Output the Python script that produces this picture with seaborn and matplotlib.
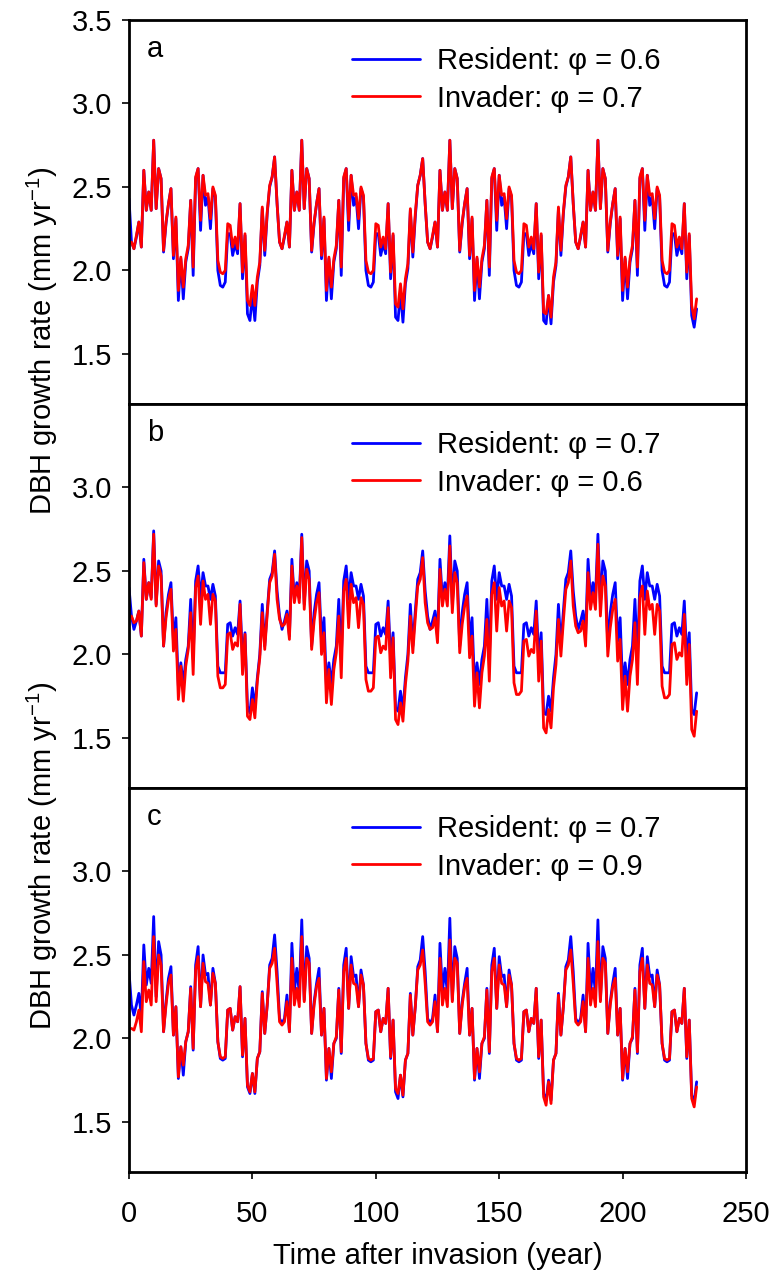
import numpy as np
import pandas as pd
import seaborn as sns
import matplotlib
matplotlib.use("Agg")
import matplotlib.pyplot as plt

# ---------------- data ----------------
years_res = np.arange(0, 231)
years_inv = np.arange(1, 231)

resident_a = [
 2.43, 2.17, 2.13, 2.20, 2.29, 2.14, 2.60, 2.36, 2.47, 2.36,
 2.78, 2.37, 2.61, 2.55, 2.11, 2.28, 2.40, 2.49, 2.07, 2.31,
 1.82, 2.07, 1.83, 2.05, 2.13, 2.42, 1.97, 2.55, 2.61, 2.24,
 2.57, 2.39, 2.44, 2.25, 2.49, 2.44, 2.00, 1.91, 1.90, 1.93,
 2.22, 2.22, 2.09, 2.16, 2.10, 2.40, 1.95, 2.21, 1.74, 1.70,
 1.85, 1.70, 1.93, 2.03, 2.37, 2.09, 2.34, 2.50, 2.56, 2.68,
 2.40, 2.17, 2.13, 2.20, 2.29, 2.14, 2.60, 2.36, 2.47, 2.36,
 2.78, 2.37, 2.61, 2.55, 2.11, 2.28, 2.40, 2.49, 2.07, 2.31,
 1.82, 2.07, 1.83, 2.05, 2.13, 2.42, 1.97, 2.55, 2.61, 2.24,
 2.57, 2.39, 2.44, 2.25, 2.49, 2.44, 2.00, 1.91, 1.90, 1.93,
 2.22, 2.22, 2.09, 2.16, 2.10, 2.40, 1.95, 2.21, 1.72, 1.70,
 1.87, 1.69, 1.92, 2.01, 2.36, 2.08, 2.32, 2.51, 2.57, 2.67,
 2.40, 2.17, 2.13, 2.20, 2.29, 2.14, 2.60, 2.36, 2.47, 2.36,
 2.78, 2.37, 2.61, 2.55, 2.11, 2.28, 2.40, 2.49, 2.07, 2.31,
 1.82, 2.07, 1.83, 2.05, 2.13, 2.42, 1.97, 2.55, 2.61, 2.24,
 2.57, 2.39, 2.44, 2.25, 2.49, 2.44, 2.00, 1.91, 1.90, 1.93,
 2.22, 2.22, 2.09, 2.16, 2.10, 2.40, 1.95, 2.21, 1.70, 1.68,
 1.85, 1.68, 1.93, 2.03, 2.37, 2.09, 2.34, 2.50, 2.56, 2.68,
 2.40, 2.17, 2.13, 2.20, 2.29, 2.14, 2.60, 2.36, 2.47, 2.36,
 2.78, 2.37, 2.61, 2.55, 2.11, 2.28, 2.40, 2.49, 2.07, 2.31,
 1.82, 2.07, 1.83, 2.05, 2.13, 2.42, 1.97, 2.55, 2.61, 2.24,
 2.57, 2.39, 2.44, 2.25, 2.49, 2.44, 2.00, 1.91, 1.90, 1.93,
 2.22, 2.22, 2.09, 2.16, 2.10, 2.40, 1.95, 2.21, 1.73, 1.66,
 1.77]

invader_a = [
 2.17, 2.13, 2.21, 2.29, 2.14, 2.60, 2.36, 2.47, 2.36,
 2.78, 2.37, 2.61, 2.55, 2.12, 2.29, 2.40, 2.49, 2.09, 2.32,
 1.88, 2.08, 1.90, 2.07, 2.15, 2.42, 2.02, 2.56, 2.61, 2.30,
 2.57, 2.45, 2.46, 2.31, 2.50, 2.45, 2.06, 1.99, 1.98, 2.00,
 2.28, 2.27, 2.14, 2.20, 2.13, 2.40, 1.99, 2.22, 1.82, 1.79,
 1.91, 1.79, 1.96, 2.05, 2.38, 2.12, 2.35, 2.51, 2.56, 2.68,
 2.40, 2.17, 2.13, 2.21, 2.29, 2.14, 2.60, 2.36, 2.47, 2.36,
 2.78, 2.37, 2.61, 2.55, 2.12, 2.29, 2.40, 2.49, 2.09, 2.32,
 1.88, 2.08, 1.90, 2.07, 2.15, 2.42, 2.02, 2.56, 2.61, 2.30,
 2.57, 2.45, 2.46, 2.31, 2.50, 2.45, 2.06, 1.99, 1.98, 2.00,
 2.28, 2.27, 2.14, 2.20, 2.13, 2.40, 1.99, 2.22, 1.80, 1.78,
 1.92, 1.77, 1.95, 2.04, 2.37, 2.11, 2.34, 2.51, 2.57, 2.67,
 2.40, 2.17, 2.13, 2.21, 2.29, 2.14, 2.60, 2.36, 2.47, 2.36,
 2.78, 2.37, 2.61, 2.55, 2.12, 2.29, 2.40, 2.49, 2.09, 2.32,
 1.88, 2.08, 1.90, 2.07, 2.15, 2.42, 2.02, 2.56, 2.61, 2.30,
 2.57, 2.45, 2.46, 2.31, 2.50, 2.45, 2.06, 1.99, 1.98, 2.00,
 2.28, 2.27, 2.14, 2.20, 2.13, 2.40, 1.99, 2.22, 1.75, 1.74,
 1.85, 1.72, 1.96, 2.05, 2.38, 2.12, 2.35, 2.51, 2.56, 2.68,
 2.40, 2.17, 2.13, 2.21, 2.29, 2.14, 2.60, 2.36, 2.47, 2.36,
 2.78, 2.37, 2.61, 2.55, 2.12, 2.29, 2.40, 2.49, 2.09, 2.32,
 1.88, 2.08, 1.90, 2.07, 2.15, 2.42, 2.02, 2.56, 2.61, 2.30,
 2.57, 2.45, 2.46, 2.31, 2.50, 2.45, 2.06, 1.99, 1.98, 2.00,
 2.28, 2.27, 2.14, 2.20, 2.13, 2.40, 1.99, 2.22, 1.79, 1.71,
 1.83]

resident_b = [
 2.40, 2.23, 2.15, 2.20, 2.26, 2.11, 2.57, 2.33, 2.43, 2.34,
 2.74, 2.30, 2.56, 2.50, 2.05, 2.25, 2.36, 2.43, 2.08, 2.22,
 1.81, 1.95, 1.82, 1.97, 2.05, 2.33, 1.97, 2.44, 2.53, 2.33,
 2.49, 2.41, 2.41, 2.33, 2.42, 2.35, 1.93, 1.89, 1.89, 1.89,
 2.18, 2.19, 2.11, 2.16, 2.12, 2.32, 1.97, 2.13, 1.69, 1.65,
 1.80, 1.68, 1.86, 2.00, 2.30, 2.05, 2.26, 2.45, 2.49, 2.62,
 2.38, 2.23, 2.15, 2.20, 2.26, 2.11, 2.57, 2.33, 2.43, 2.34,
 2.72, 2.30, 2.56, 2.50, 2.05, 2.25, 2.36, 2.43, 2.08, 2.22,
 1.81, 1.95, 1.82, 1.97, 2.05, 2.33, 1.97, 2.44, 2.53, 2.33,
 2.49, 2.41, 2.41, 2.33, 2.42, 2.35, 1.93, 1.89, 1.89, 1.89,
 2.18, 2.19, 2.11, 2.16, 2.12, 2.32, 1.97, 2.13, 1.68, 1.66,
 1.78, 1.66, 1.86, 2.00, 2.30, 2.05, 2.26, 2.45, 2.49, 2.62,
 2.38, 2.23, 2.15, 2.20, 2.26, 2.11, 2.57, 2.33, 2.43, 2.34,
 2.71, 2.30, 2.56, 2.50, 2.05, 2.25, 2.36, 2.43, 2.08, 2.22,
 1.81, 1.95, 1.82, 1.97, 2.05, 2.33, 1.97, 2.44, 2.53, 2.33,
 2.49, 2.41, 2.41, 2.33, 2.42, 2.35, 1.93, 1.89, 1.89, 1.89,
 2.18, 2.19, 2.11, 2.16, 2.12, 2.32, 1.97, 2.13, 1.65, 1.64,
 1.75, 1.66, 1.86, 2.00, 2.30, 2.05, 2.26, 2.45, 2.49, 2.62,
 2.38, 2.23, 2.15, 2.20, 2.26, 2.11, 2.57, 2.33, 2.43, 2.34,
 2.72, 2.30, 2.56, 2.50, 2.05, 2.25, 2.36, 2.43, 2.08, 2.22,
 1.81, 1.95, 1.82, 1.97, 2.05, 2.33, 1.97, 2.44, 2.53, 2.33,
 2.49, 2.41, 2.41, 2.33, 2.42, 2.35, 1.93, 1.89, 1.89, 1.89,
 2.18, 2.19, 2.11, 2.16, 2.12, 2.32, 1.97, 2.13, 1.67, 1.64,
 1.77]

invader_b = [
 2.23, 2.19, 2.20, 2.26, 2.11, 2.55, 2.33, 2.43, 2.33,
 2.72, 2.29, 2.53, 2.47, 2.05, 2.22, 2.33, 2.39, 2.02, 2.15,
 1.73, 1.93, 1.72, 1.93, 2.03, 2.25, 1.88, 2.40, 2.47, 2.18,
 2.44, 2.33, 2.36, 2.18, 2.36, 2.32, 1.87, 1.80, 1.80, 1.82,
 2.12, 2.13, 2.03, 2.07, 2.05, 2.30, 1.88, 2.12, 1.63, 1.61,
 1.73, 1.62, 1.84, 1.98, 2.25, 2.03, 2.24, 2.43, 2.47, 2.60,
 2.33, 2.21, 2.17, 2.18, 2.24, 2.09, 2.53, 2.31, 2.41, 2.31,
 2.70, 2.27, 2.51, 2.45, 2.03, 2.20, 2.31, 2.37, 2.00, 2.13,
 1.71, 1.91, 1.70, 1.91, 2.01, 2.23, 1.86, 2.38, 2.45, 2.16,
 2.42, 2.31, 2.34, 2.16, 2.34, 2.30, 1.85, 1.78, 1.78, 1.80,
 2.10, 2.11, 2.01, 2.05, 2.03, 2.28, 1.86, 2.10, 1.61, 1.58,
 1.71, 1.60, 1.82, 1.96, 2.23, 2.01, 2.22, 2.41, 2.45, 2.58,
 2.31, 2.19, 2.15, 2.16, 2.22, 2.07, 2.51, 2.29, 2.39, 2.29,
 2.65, 2.25, 2.49, 2.43, 2.01, 2.18, 2.29, 2.35, 1.98, 2.11,
 1.69, 1.89, 1.68, 1.89, 1.99, 2.21, 1.84, 2.36, 2.43, 2.14,
 2.40, 2.29, 2.32, 2.14, 2.32, 2.28, 1.83, 1.76, 1.76, 1.78,
 2.08, 2.09, 1.99, 2.03, 2.01, 2.26, 1.84, 2.08, 1.56, 1.53,
 1.67, 1.56, 1.80, 1.94, 2.21, 1.99, 2.20, 2.39, 2.43, 2.56,
 2.29, 2.17, 2.13, 2.14, 2.20, 2.05, 2.49, 2.27, 2.37, 2.27,
 2.66, 2.23, 2.47, 2.41, 1.99, 2.16, 2.27, 2.33, 1.96, 2.09,
 1.67, 1.87, 1.66, 1.87, 1.97, 2.19, 1.82, 2.34, 2.41, 2.12,
 2.38, 2.27, 2.30, 2.12, 2.30, 2.26, 1.81, 1.74, 1.74, 1.76,
 2.06, 2.07, 1.97, 2.01, 1.99, 2.24, 1.82, 2.06, 1.55, 1.51,
 1.66]

resident_c = [
 2.40, 2.20, 2.14, 2.20, 2.27, 2.13, 2.56, 2.32, 2.42, 2.33,
 2.73, 2.25, 2.58, 2.50, 2.04, 2.22, 2.36, 2.43, 2.02, 2.19,
 1.76, 1.95, 1.78, 1.98, 2.04, 2.31, 1.93, 2.44, 2.55, 2.19,
 2.50, 2.38, 2.39, 2.20, 2.42, 2.33, 1.98, 1.88, 1.87, 1.88,
 2.17, 2.18, 2.05, 2.13, 2.10, 2.31, 1.89, 2.12, 1.71, 1.67,
 1.79, 1.67, 1.88, 1.92, 2.28, 2.03, 2.20, 2.44, 2.48, 2.62,
 2.40, 2.12, 2.09, 2.12, 2.26, 2.04, 2.57, 2.28, 2.42, 2.27,
 2.71, 2.23, 2.55, 2.48, 2.03, 2.22, 2.33, 2.42, 2.02, 2.18,
 1.75, 1.94, 1.76, 1.97, 2.00, 2.30, 1.91, 2.44, 2.54, 2.18,
 2.49, 2.37, 2.38, 2.19, 2.41, 2.32, 1.97, 1.87, 1.86, 1.87,
 2.16, 2.17, 2.04, 2.12, 2.09, 2.30, 1.88, 2.11, 1.68, 1.64,
 1.78, 1.65, 1.87, 1.91, 2.27, 2.02, 2.19, 2.43, 2.47, 2.61,
 2.40, 2.12, 2.09, 2.12, 2.26, 2.04, 2.57, 2.28, 2.42, 2.27,
 2.72, 2.23, 2.55, 2.48, 2.03, 2.22, 2.33, 2.42, 2.02, 2.18,
 1.75, 1.94, 1.76, 1.97, 2.00, 2.30, 1.91, 2.44, 2.54, 2.18,
 2.49, 2.37, 2.38, 2.19, 2.41, 2.32, 1.97, 1.87, 1.86, 1.87,
 2.16, 2.17, 2.04, 2.12, 2.09, 2.30, 1.88, 2.11, 1.67, 1.63,
 1.75, 1.63, 1.87, 1.91, 2.27, 2.02, 2.19, 2.43, 2.47, 2.61,
 2.40, 2.12, 2.09, 2.12, 2.26, 2.04, 2.57, 2.28, 2.42, 2.27,
 2.71, 2.23, 2.55, 2.48, 2.03, 2.22, 2.33, 2.42, 2.02, 2.18,
 1.75, 1.94, 1.76, 1.97, 2.00, 2.30, 1.91, 2.44, 2.54, 2.18,
 2.49, 2.37, 2.38, 2.19, 2.41, 2.32, 1.97, 1.87, 1.86, 1.87,
 2.16, 2.17, 2.04, 2.12, 2.09, 2.30, 1.88, 2.11, 1.66, 1.62,
 1.74]

invader_c = [
 2.06, 2.05, 2.10, 2.17, 2.04, 2.46, 2.22, 2.29, 2.20,
 2.61, 2.22, 2.50, 2.44, 2.04, 2.20, 2.33, 2.38, 2.02, 2.19,
 1.77, 1.95, 1.84, 1.98, 2.04, 2.30, 1.94, 2.41, 2.49, 2.19,
 2.45, 2.34, 2.33, 2.20, 2.39, 2.33, 1.98, 1.89, 1.88, 1.89,
 2.17, 2.18, 2.05, 2.13, 2.10, 2.31, 1.90, 2.12, 1.72, 1.68,
 1.79, 1.68, 1.88, 1.92, 2.27, 2.03, 2.20, 2.42, 2.45, 2.54,
 2.33, 2.10, 2.08, 2.10, 2.22, 2.04, 2.48, 2.20, 2.30, 2.19,
 2.61, 2.22, 2.48, 2.45, 2.03, 2.20, 2.31, 2.36, 2.02, 2.18,
 1.76, 1.94, 1.80, 1.97, 2.01, 2.29, 1.92, 2.40, 2.48, 2.18,
 2.44, 2.33, 2.32, 2.19, 2.38, 2.32, 1.97, 1.88, 1.87, 1.88,
 2.16, 2.17, 2.04, 2.12, 2.09, 2.30, 1.89, 2.11, 1.70, 1.67,
 1.78, 1.66, 1.87, 1.91, 2.26, 2.02, 2.19, 2.41, 2.44, 2.53,
 2.33, 2.10, 2.08, 2.10, 2.22, 2.04, 2.48, 2.20, 2.30, 2.19,
 2.59, 2.22, 2.48, 2.45, 2.03, 2.20, 2.31, 2.36, 2.02, 2.18,
 1.76, 1.94, 1.80, 1.97, 2.01, 2.29, 1.92, 2.40, 2.48, 2.18,
 2.44, 2.33, 2.32, 2.19, 2.38, 2.32, 1.97, 1.88, 1.87, 1.88,
 2.16, 2.17, 2.04, 2.12, 2.09, 2.30, 1.89, 2.11, 1.65, 1.60,
 1.74, 1.61, 1.87, 1.91, 2.26, 2.02, 2.19, 2.41, 2.44, 2.53,
 2.33, 2.10, 2.08, 2.10, 2.22, 2.04, 2.48, 2.20, 2.30, 2.19,
 2.58, 2.22, 2.48, 2.45, 2.03, 2.20, 2.31, 2.36, 2.02, 2.18,
 1.76, 1.94, 1.80, 1.97, 2.01, 2.29, 1.92, 2.40, 2.48, 2.18,
 2.44, 2.33, 2.32, 2.19, 2.38, 2.32, 1.97, 1.88, 1.87, 1.88,
 2.16, 2.17, 2.04, 2.12, 2.09, 2.30, 1.89, 2.11, 1.64, 1.59,
 1.71]

panel_letters = ["a", "b", "c"]
resident_labels = ["Resident: φ = 0.6", "Resident: φ = 0.7", "Resident: φ = 0.7"]
invader_labels = ["Invader: φ = 0.7", "Invader: φ = 0.6", "Invader: φ = 0.9"]
x_ticks = [0, 50, 100, 150, 200, 250]
y_ticks_top = [1.5, 2.0, 2.5, 3.0, 3.5]
y_ticks_other = [1.5, 2.0, 2.5, 3.0]
x_label = "Time after invasion (year)"
y_label = "DBH growth rate (mm yr$^{-1}$)"

# ---------------- style ----------------
sns.set_style("ticks")
plt.rcParams['font.family'] = ['Liberation Sans', 'DejaVu Sans']
plt.rcParams['mathtext.fontset'] = 'custom'
plt.rcParams['mathtext.rm'] = 'Liberation Sans'
plt.rcParams['mathtext.it'] = 'Liberation Sans:italic'
plt.rcParams['mathtext.default'] = 'regular'
plt.rcParams['text.color'] = 'black'
plt.rcParams['axes.labelcolor'] = 'black'
plt.rcParams['xtick.color'] = 'black'
plt.rcParams['ytick.color'] = 'black'
plt.rcParams['legend.labelcolor'] = 'black'

FS = 21
BLUE = "#0000FF"
RED = "#FF0000"

fig = plt.figure(figsize=(7.71, 12.81), dpi=100)
W, H = 771.0, 1281.0
left = 129 / W
width = (746 - 129) / W
tops = [20, 404, 788]
ph = 384

residents = [resident_a, resident_b, resident_c]
invaders = [invader_a, invader_b, invader_c]

axes = []
for i in range(3):
    bottom = 1 - (tops[i] + ph) / H
    ax = fig.add_axes([left, bottom, width, ph / H])
    axes.append(ax)
    sns.lineplot(x=years_res, y=residents[i], ax=ax, color=BLUE, lw=2.0,
                 estimator=None, errorbar=None, label=resident_labels[i])
    sns.lineplot(x=years_inv, y=invaders[i], ax=ax, color=RED, lw=2.0,
                 estimator=None, errorbar=None, label=invader_labels[i])
    ax.set_xlim(0, 250)
    ax.set_ylim(1.2, 3.5)
    yt = y_ticks_top if i == 0 else y_ticks_other
    ax.set_yticks(yt)
    ax.set_yticklabels([f"{t:.1f}" for t in yt])
    ax.tick_params(axis='y', direction='out', length=5, width=1.2, pad=7,
                   labelsize=FS, colors='black')
    for s in ax.spines.values():
        s.set_linewidth(2.0)
        s.set_color('black')
        s.set_visible(True)
    if i < 2:
        ax.set_xticks([])
        ax.tick_params(axis='x', length=0, labelbottom=False)
    else:
        ax.set_xticks(x_ticks)
        ax.set_xticklabels([str(t) for t in x_ticks])
        ax.tick_params(axis='x', direction='out', length=5, width=1.2, pad=15,
                       labelsize=FS, colors='black')
        ax.set_xlabel(x_label, fontsize=FS, labelpad=10, color='black')
    ax.set_ylabel("")
    ax.text(0.029, 0.925, panel_letters[i], transform=ax.transAxes,
            fontsize=FS, ha='left', va='center', color='black')
    ax.legend(loc='upper left', bbox_to_anchor=(0.361, 0.93), frameon=False,
              fontsize=FS, handlelength=2.33, handletextpad=0.58,
              labelspacing=0.33, borderpad=0, borderaxespad=0,
              labelcolor='black')

fig.text(42 / W, 1 - 341 / H, y_label, rotation=90, fontsize=FS,
         ha='center', va='center', color='black')
fig.text(42 / W, 1 - 856 / H, y_label, rotation=90, fontsize=FS,
         ha='center', va='center', color='black')

fig.savefig("out.png", dpi=100)
